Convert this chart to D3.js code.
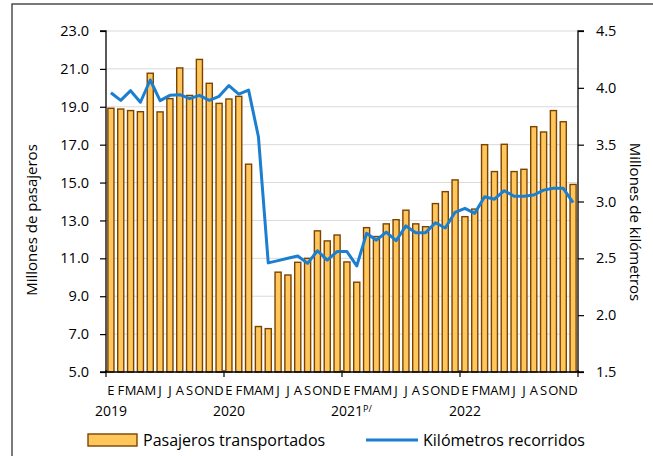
<!DOCTYPE html>
<html><head><meta charset="utf-8">
<script src="https://cdn.jsdelivr.net/npm/d3@7"></script>
<style>
html,body{margin:0;padding:0;background:#fff;}
svg{display:block;font-family:"Open Sans","Liberation Sans",sans-serif;}
</style></head>
<body><svg id="c" width="653" height="456"></svg>
<script>
const years = ["2019","2020","2021","2022"];
const monthLetters = ["E","F","M","A","M","J","J","A","S","O","N","D"];
const passengers = [
 18.92,18.88,18.8,18.74,20.77,18.73,19.43,21.05,19.6,21.5,20.24,19.18,
 19.41,19.55,15.97,7.4,7.29,10.27,10.12,10.79,11.0,12.45,11.92,12.23,
 10.81,9.74,12.62,12.15,12.82,13.04,13.54,12.82,12.67,13.89,14.52,15.14,
 13.2,13.6,17.0,15.58,17.02,15.58,15.7,17.95,17.67,18.8,18.21,14.9];
const kilometers = [
 3.957,3.89,3.975,3.873,4.069,3.887,3.934,3.94,3.905,3.934,3.89,3.925,
 4.02,3.945,3.98,3.57,2.46,2.48,2.50,2.52,2.456,2.567,2.485,2.56,
 2.56,2.433,2.72,2.66,2.73,2.655,2.785,2.726,2.726,2.813,2.767,2.905,
 2.94,2.896,3.042,3.02,3.095,3.046,3.046,3.057,3.1,3.116,3.116,2.99];
const leftTicks = [5,7,9,11,13,15,17,19,21,23];
const rightTicks = [1.5,2.0,2.5,3.0,3.5,4.0,4.5];
const legendLabels = ["Pasajeros transportados","Kilómetros recorridos"];
const axisTitles = ["Millones de pasajeros","Millones de kilómetros"];

const svg = d3.select("#c");
const L=106, R=578, T=31, B=372;
const idx = d3.range(passengers.length);
const x = d3.scaleBand().domain(idx).range([L,R]).paddingInner(0.38).paddingOuter(0.19);
const xc = i => x(i) + x.bandwidth()/2;
const yL = d3.scaleLinear().domain([5,23]).range([B,T]);
const yR = d3.scaleLinear().domain([1.5,4.5]).range([B,T]);

// outer border
svg.append("rect").attr("x",12).attr("y",4).attr("width",700).attr("height",500)
  .attr("fill","none").attr("stroke","#333").attr("stroke-width",1.3);

// gridlines
svg.append("g").selectAll("line").data(leftTicks.slice(1)).join("line")
  .attr("x1",L).attr("x2",R).attr("y1",d=>yL(d)).attr("y2",d=>yL(d))
  .attr("stroke","#d9d9d9").attr("stroke-width",1);

// bars
svg.append("g").selectAll("rect").data(passengers).join("rect")
  .attr("x",(d,i)=>x(i)).attr("width",x.bandwidth())
  .attr("y",d=>yL(d)).attr("height",d=>B-yL(d))
  .attr("fill","#FFC65C").attr("stroke","#7B4300").attr("stroke-width",1.4);

// line
const line = d3.line().x((d,i)=>xc(i)).y(d=>yR(d));
svg.append("path").datum(kilometers).attr("d",line)
  .attr("fill","none").attr("stroke","#1A7FD0").attr("stroke-width",3).attr("stroke-linejoin","round");

// axes
const fmt1 = d3.format(".1f");
const gl = svg.append("g").attr("transform",`translate(${L},0)`)
  .call(d3.axisLeft(yL).tickValues(leftTicks).tickFormat(fmt1).tickSize(6).tickPadding(11));
const gr = svg.append("g").attr("transform",`translate(${R},0)`)
  .call(d3.axisRight(yR).tickValues(rightTicks).tickFormat(fmt1).tickSize(6).tickPadding(12));
[gl,gr].forEach(g=>{
  g.select(".domain").attr("stroke","#000").attr("stroke-width",1.3);
  g.selectAll(".tick line").attr("stroke","#000").attr("stroke-width",1.2);
  g.selectAll("text").attr("font-size",14.5).attr("fill","#000")
   .attr("font-family","'Open Sans','Liberation Sans',sans-serif");
});
gl.select(".domain").attr("d",`M-6,${T}H0V${B}H-6`);
gr.select(".domain").attr("d",`M6,${T}H0V${B}H6`);

// bottom axis line and year ticks
svg.append("line").attr("x1",L).attr("x2",R).attr("y1",B).attr("y2",B)
  .attr("stroke","#000").attr("stroke-width",1.3);
const yb = d3.range(years.length+1).map(k=> L + (R-L)*k/years.length);
svg.append("g").selectAll("line").data(yb).join("line")
  .attr("x1",d=>d).attr("x2",d=>d).attr("y1",B-2).attr("y2",B+5)
  .attr("stroke","#000").attr("stroke-width",1.2);

// month letters
svg.append("g").selectAll("text").data(idx).join("text")
  .attr("x",i=>xc(i)).attr("y",395).attr("text-anchor","middle")
  .attr("font-size",13).attr("fill","#000")
  .text(i=>monthLetters[i%12]);

// year labels
const yl = svg.append("g").selectAll("text").data(years).join("text")
  .attr("x",(d,k)=>yb[k]-11).attr("y",416).attr("font-size",14).attr("fill","#000");
yl.text(d=>d);
yl.filter(d=>d==="2021").append("tspan").attr("font-size",9).attr("dy",-4).text("P/");

// axis titles
svg.append("text").attr("transform","translate(37,220) rotate(-90)")
  .attr("text-anchor","middle").attr("font-size",15).attr("fill","#000").text(axisTitles[0]);
svg.append("text").attr("transform","translate(630,222) rotate(90)")
  .attr("text-anchor","middle").attr("font-size",15).attr("fill","#000").text(axisTitles[1]);

// legend
const lg = svg.append("g");
lg.append("rect").attr("x",88).attr("y",434).attr("width",49).attr("height",12)
  .attr("fill","#FFC65C").attr("stroke","#7B4300").attr("stroke-width",1.4);
lg.append("text").attr("x",143).attr("y",446).attr("font-size",16).attr("fill","#000").text(legendLabels[0]);
lg.append("line").attr("x1",366).attr("x2",418).attr("y1",440).attr("y2",440)
  .attr("stroke","#1A7FD0").attr("stroke-width",3);
lg.append("text").attr("x",423).attr("y",446).attr("font-size",16).attr("fill","#000").text(legendLabels[1]);
</script></body></html>
